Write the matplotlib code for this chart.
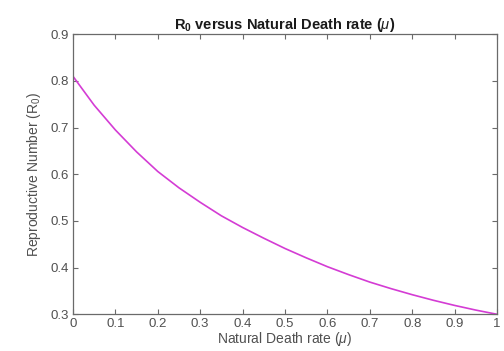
import numpy as np
import matplotlib
matplotlib.use("Agg")
import matplotlib.pyplot as plt

# values
mu = [0.00, 0.05, 0.10, 0.15, 0.20, 0.25, 0.30, 0.35, 0.40, 0.45, 0.50,
      0.55, 0.60, 0.65, 0.70, 0.75, 0.80, 0.85, 0.90, 0.95, 1.00]
r0 = [0.810, 0.748, 0.695, 0.648, 0.606, 0.571, 0.540, 0.511, 0.486, 0.463, 0.441,
      0.421, 0.402, 0.385, 0.369, 0.355, 0.342, 0.330, 0.319, 0.309, 0.300]

x_ticks = [0, 0.1, 0.2, 0.3, 0.4, 0.5, 0.6, 0.7, 0.8, 0.9, 1]
x_tick_labels = ["0", "0.1", "0.2", "0.3", "0.4", "0.5", "0.6", "0.7", "0.8", "0.9", "1"]
y_ticks = [0.3, 0.4, 0.5, 0.6, 0.7, 0.8, 0.9]

plt.rcParams['font.family'] = ['Liberation Sans', 'DejaVu Sans']
plt.rcParams['mathtext.fontset'] = 'custom'
plt.rcParams['mathtext.rm'] = 'Liberation Sans'
plt.rcParams['mathtext.it'] = 'Liberation Sans:italic'
plt.rcParams['mathtext.bf'] = 'Liberation Sans:bold'

fig = plt.figure(figsize=(5.04, 3.51), dpi=100)
fig.patch.set_facecolor('white')
ax = fig.add_axes([0.1448, 0.1046, 0.8413, 0.7977])

ax.plot(mu, r0, color='#d43cd4', linewidth=1.2, solid_joinstyle='round')

ax.set_xlim(0, 1)
ax.set_ylim(0.3, 0.9)
ax.set_xticks(x_ticks)
ax.set_xticklabels(x_tick_labels)
ax.set_yticks(y_ticks)

grey = '#505050'
for s in ax.spines.values():
    s.set_color('#6a6a6a')
    s.set_linewidth(0.9)
ax.tick_params(direction='in', top=True, right=True, length=3.5, width=0.8,
               color='#6a6a6a', labelsize=9.5, labelcolor=grey, pad=3)

ax.set_title(r'R$_\mathbf{0}$ versus Natural Death rate ($\mu$)', fontsize=10.5,
             fontweight='bold', color='#1a1a1a', pad=4)
ax.set_xlabel(r'Natural Death rate ($\mu$)', fontsize=10, color=grey, labelpad=0)
ax.set_ylabel(r'Reproductive Number (R$_0$)', fontsize=10, color=grey, labelpad=5)

fig.savefig('out.png', dpi=100)
